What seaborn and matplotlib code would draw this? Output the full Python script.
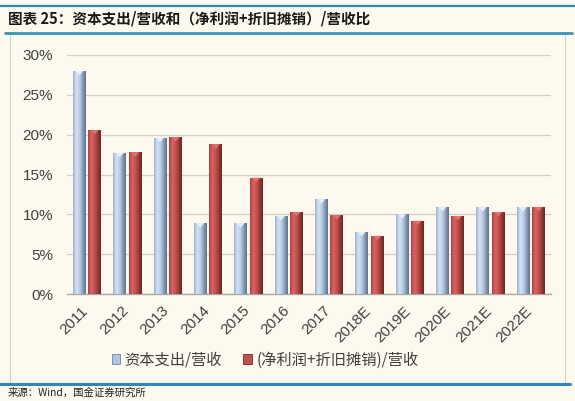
import numpy as np
import pandas as pd
import matplotlib
matplotlib.use("Agg")
import matplotlib.pyplot as plt
import matplotlib.transforms as mtransforms
import seaborn as sns
from matplotlib.colors import LinearSegmentedColormap
from matplotlib.patches import Patch, Rectangle
from matplotlib.lines import Line2D

years = ["2011", "2012", "2013", "2014", "2015", "2016", "2017",
         "2018E", "2019E", "2020E", "2021E", "2022E"]
capex_ratio = [28.0, 17.7, 19.6, 8.9, 8.9, 9.8, 11.9, 7.8, 10.0, 10.9, 10.9, 10.9]
cash_ratio = [20.6, 17.8, 19.7, 18.8, 14.6, 10.3, 9.9, 7.3, 9.2, 9.8, 10.3, 10.9]
series_names = ["资本支出/营收", "(净利润+折旧摊销)/营收"]
y_ticks = [0, 5, 10, 15, 20, 25, 30]

df = pd.DataFrame({
    "year": years * 2,
    "value": capex_ratio + cash_ratio,
    "series": [series_names[0]] * len(years) + [series_names[1]] * len(years),
})

sns.set_theme(style="white")
plt.rcParams["font.family"] = ["Liberation Sans", "Noto Sans CJK SC", "DejaVu Sans"]

bg = "#FDF9EF"
fig = plt.figure(figsize=(5.75, 4.01), dpi=100, facecolor=bg)
ax = fig.add_axes([67 / 575, 1 - 294 / 401, (551 - 67) / 575, (294 - 55) / 401])
ax.set_facecolor(bg)

blue_c = "#B3C7E2"
red_c = "#C0504D"
sns.barplot(data=df, x="year", y="value", hue="series", order=years,
            hue_order=series_names, palette=[blue_c, red_c],
            width=0.77, gap=0.17, ax=ax, legend=False, linewidth=0, zorder=3)

# gradient shading for bars
cmaps = {
    0: LinearSegmentedColormap.from_list("b", ["#9AB0CD", "#D6E3F4", "#BDD0E8", "#8A9FBB", "#5E7089"]),
    1: LinearSegmentedColormap.from_list("r", ["#A84240", "#DA6461", "#C4524F", "#9A3A38", "#6E2523"]),
}
grad = np.linspace(0, 1, 64).reshape(1, -1)
bars = [p for p in ax.patches if isinstance(p, Rectangle) and p.get_height() > 0]
for i, p in enumerate(bars):
    s = 0 if i < len(years) else 1
    x0, w, h = p.get_x(), p.get_width(), p.get_height()
    im = ax.imshow(grad, cmap=cmaps[s], extent=[x0, x0 + w, 0, h],
                   aspect="auto", zorder=4, interpolation="bicubic")
    im.set_clip_path(p)
    tri_h = 0.55
    tri_col = "#E6EEF8" if s == 0 else "#E07370"
    ax.fill([x0 + w * 0.2, x0 + w * 0.8, x0 + w * 0.5],
            [h, h, h - tri_h], color=tri_col, zorder=5, lw=0)
ax.set_xlim(-0.5, len(years) - 0.5)
ax.set_ylim(0, 30)

ax.set_yticks(y_ticks)
ax.set_yticklabels([f"{v}%" for v in y_ticks], fontsize=11, color="#404040")
ax.yaxis.grid(True, color="#D4D0C8", lw=0.9, zorder=0)
ax.set_axisbelow(True)
for sp in ["top", "right", "left"]:
    ax.spines[sp].set_visible(False)
ax.spines["bottom"].set_color("#A8A8A8")
ax.spines["bottom"].set_linewidth(1.0)
ax.tick_params(axis="y", length=0, pad=10)
ax.tick_params(axis="x", length=0, pad=4)
ax.set_xticks(range(len(years)))
ax.set_xticklabels(years, rotation=45, ha="right", rotation_mode="anchor",
                   fontsize=11, color="#404040")
offset = mtransforms.ScaledTranslation(-6 / 100, -4 / 100, fig.dpi_scale_trans)
for lbl in ax.get_xticklabels():
    lbl.set_transform(lbl.get_transform() + offset)
ax.set_xlabel("")
ax.set_ylabel("")

# legend
handles = [Patch(facecolor=blue_c, edgecolor="#6F84A0", lw=0.6),
           Patch(facecolor=red_c, edgecolor="#7A2A28", lw=0.6)]
leg = fig.legend(handles, series_names, loc="center", bbox_to_anchor=(265 / 575, 1 - 360 / 401),
                 ncol=2, frameon=False, handlelength=0.55, handleheight=0.55,
                 handletextpad=0.3, columnspacing=1.4,
                 prop={"family": ["Noto Sans CJK SC", "DejaVu Sans"], "size": 11})
for t in leg.get_texts():
    t.set_color("#404040")

# frame and decorative lines
fig.add_artist(Rectangle((10 / 575, 1 - 384 / 401), (565 - 10) / 575, (384 - 34) / 401,
                         transform=fig.transFigure, fill=False, ec="#D8D4CC", lw=0.8))
fig.add_artist(Line2D([0, 1], [1 - 6 / 401] * 2, transform=fig.transFigure,
                      color="#2C88B8", lw=1.6))
fig.add_artist(Line2D([5 / 575, 572 / 575], [1 - 32.5 / 401] * 2, transform=fig.transFigure,
                      color="#3B93C2", lw=2.0))
fig.add_artist(Line2D([0, 570 / 575], [1 - 383.5 / 401] * 2, transform=fig.transFigure,
                      color="#2C88B8", lw=2.2))

fig.text(8 / 575, 1 - 19 / 401, "图表 25：资本支出/营收和（净利润+折旧摊销）/营收比",
         fontsize=10.5, fontweight="bold", color="#1A1A1A", va="center", ha="left",
         family=["Noto Sans CJK SC", "DejaVu Sans"])
fig.text(8 / 575, 1 - 393 / 401, "来源：Wind，国金证券研究所",
         fontsize=7.5, color="#222222", va="center", ha="left",
         family=["Noto Sans CJK SC", "DejaVu Sans"])

fig.savefig("out.png", dpi=100, facecolor=bg)
